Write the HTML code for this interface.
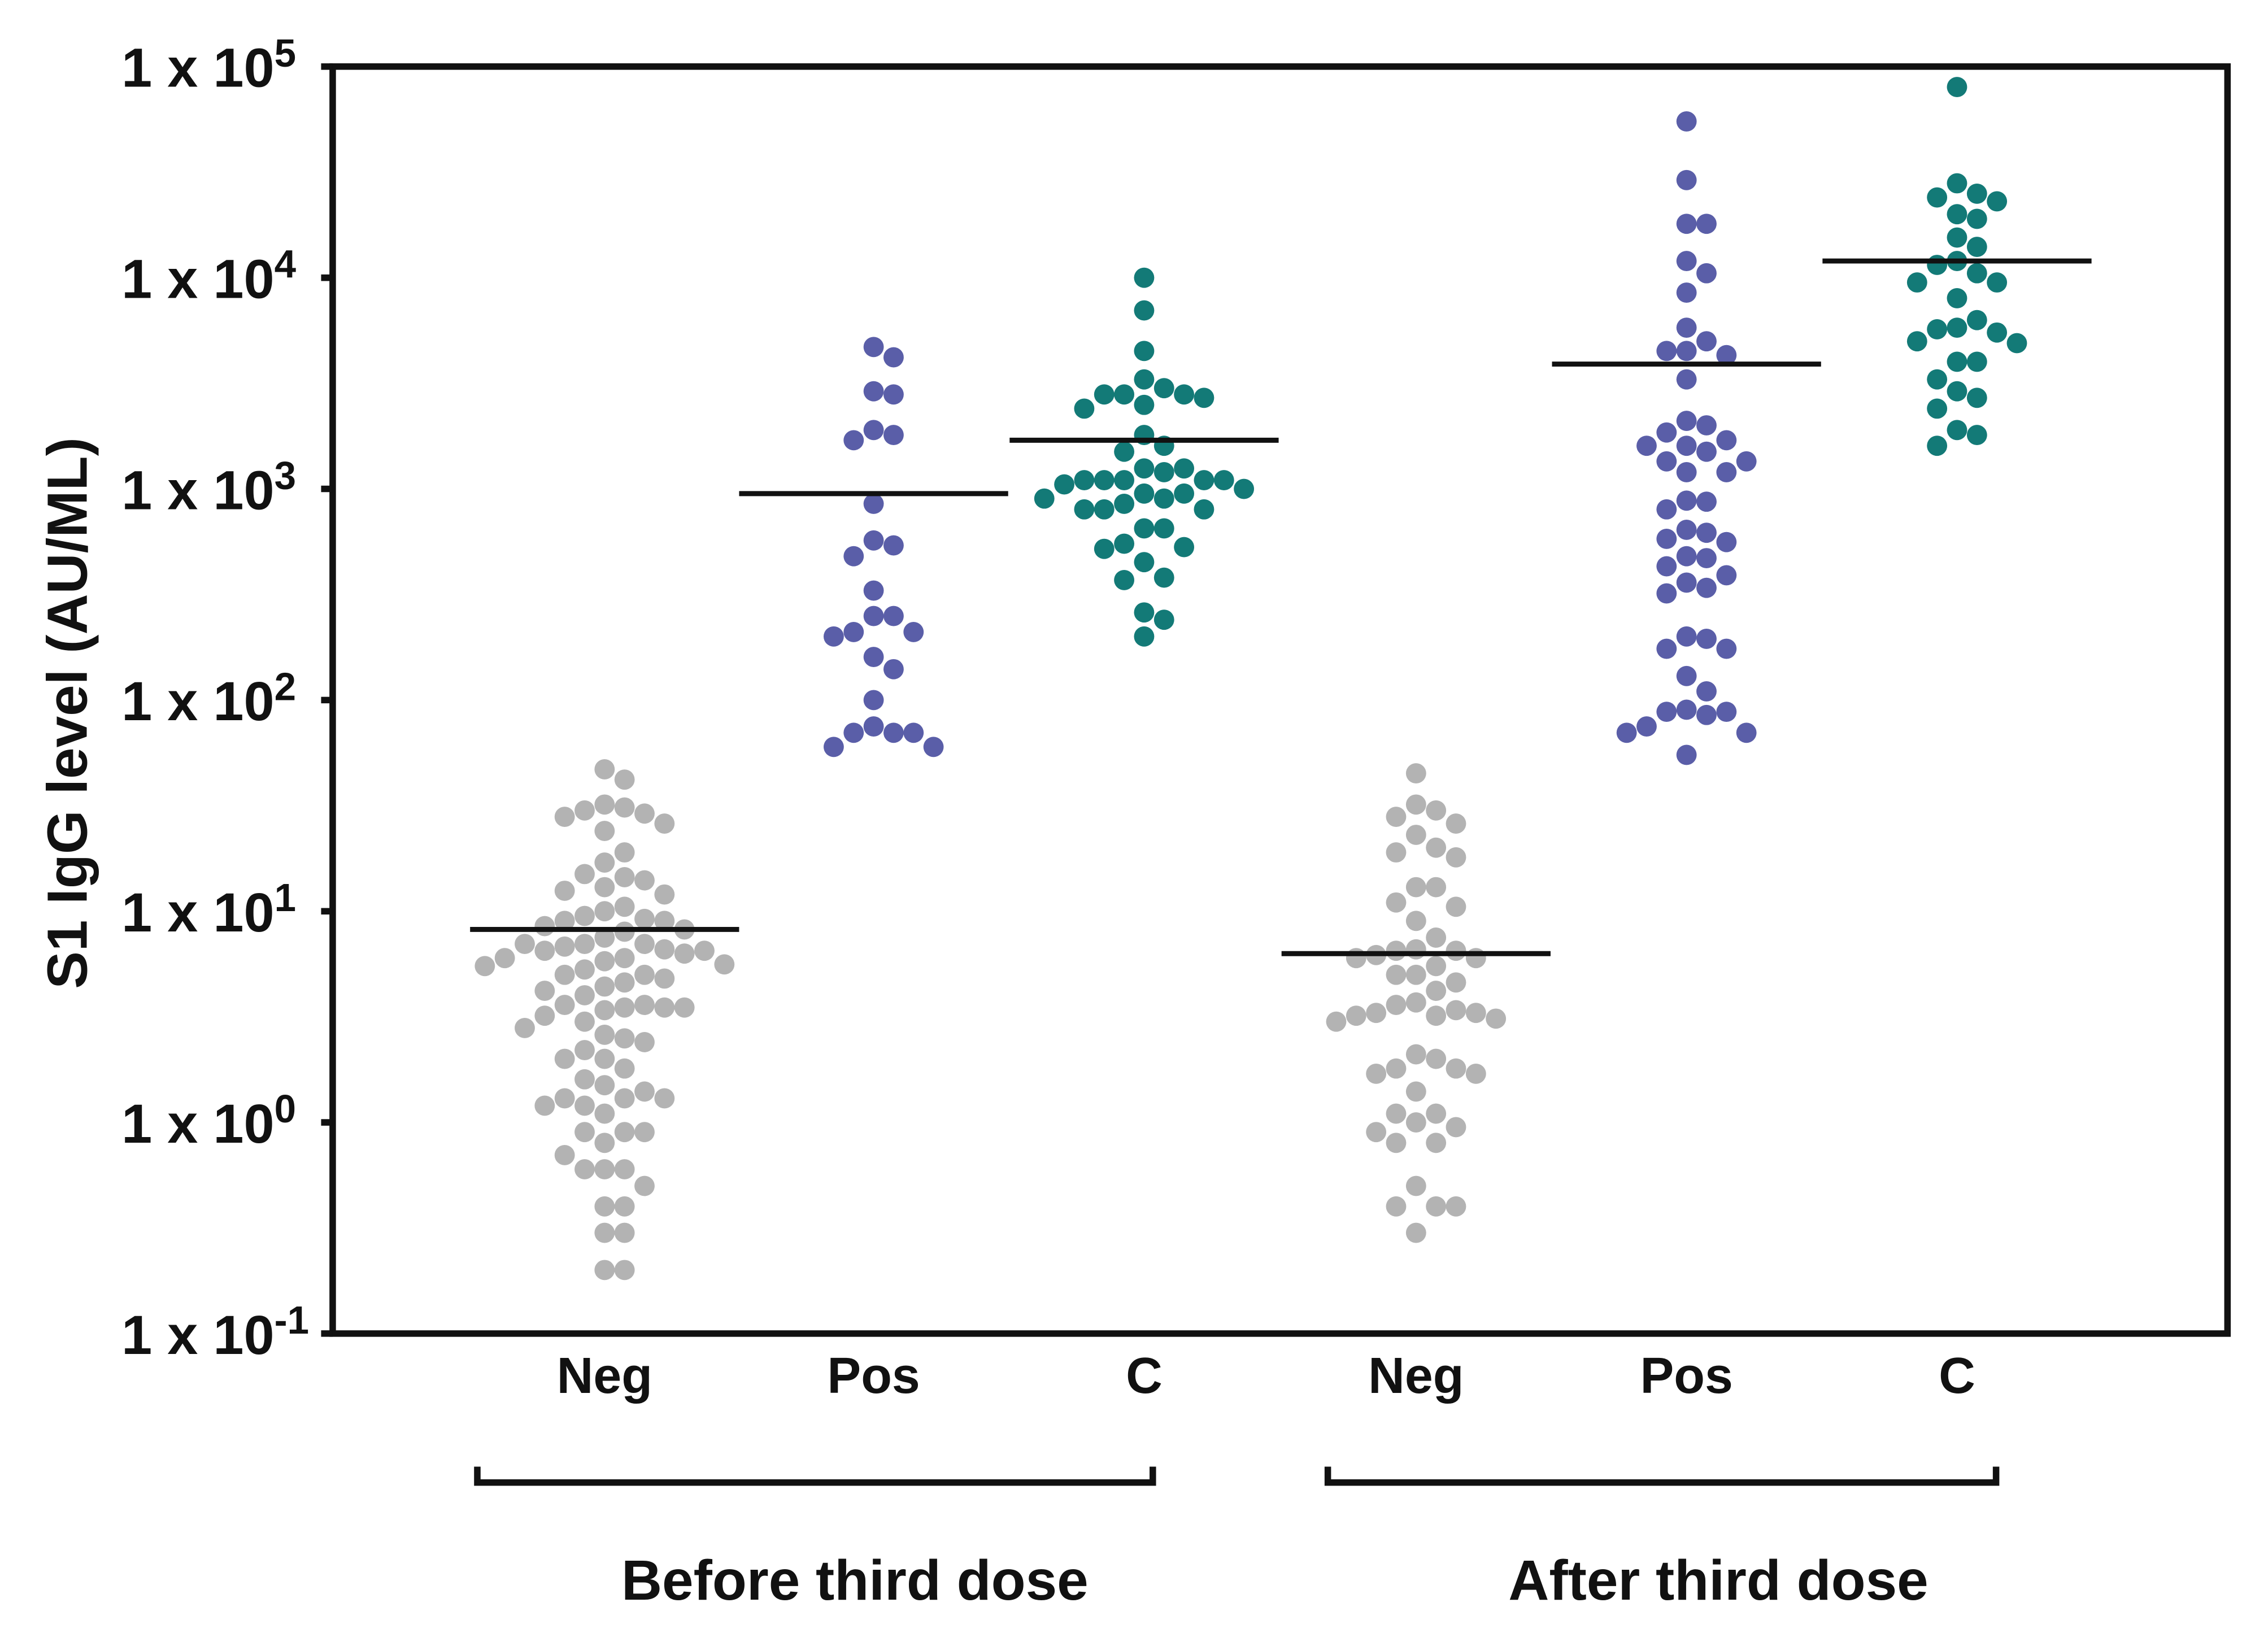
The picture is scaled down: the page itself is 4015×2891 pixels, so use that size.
<!DOCTYPE html>
<html><head><meta charset="utf-8"><style>
html,body{margin:0;padding:0;background:#fff;}
svg{display:block;}
text{font-family:"Liberation Sans",Arial,sans-serif;font-weight:bold;fill:#111;}
</style></head><body>
<svg id="chart" width="4015" height="2891" viewBox="0 0 1568 1129" xmlns="http://www.w3.org/2000/svg">
<g id="axes"></g>
<g id="points"></g>
<g id="medians"></g>
</svg>
<script>
const categories = ["Neg","Pos","C","Neg","Pos","C"];
const groupLabels = ["Before third dose","After third dose"];
const tickExponents = ["5","4","3","2","1","0","-1"];
const negBefore = [47,42,32,31,30,29,28,26,24,19,17,15,14.5,14,13,12.5,12,10.5,10,9.5,9.2,9,9,8.5,8.2,8,7.5,7,7,7,6.8,6.6,6.5,6.5,6.3,6,6,5.8,5.6,5.5,5.3,5,5,4.8,4.6,4.4,4.2,4,3.6,3.6,3.5,3.5,3.5,3.4,3.2,3,2.8,2.6,2.5,2.4,2.2,2,2,1.8,1.6,1.5,1.4,1.3,1.3,1.3,1.2,1.2,1.1,0.9,0.9,0.9,0.8,0.7,0.6,0.6,0.6,0.5,0.4,0.4,0.3,0.3,0.2,0.2];
const posBefore = [4700,4200,2900,2800,1900,1800,1700,850,570,540,480,330,250,250,210,210,200,160,140,100,75,70,70,70,60,60];
const cBefore = [10000,7000,4500,3300,3000,2800,2800,2800,2700,2500,2400,1800,1600,1500,1250,1250,1200,1100,1100,1100,1100,1100,1050,1000,950,950,900,900,850,800,800,800,650,650,550,530,520,450,380,370,260,240,200];
const negAfter = [45,32,30,28,26,23,20,19,18,13,13,11,10.5,9,7.5,6.6,6.5,6.5,6.2,6,6,5.5,5,5,4.6,4.2,3.7,3.6,3.4,3.3,3.3,3.2,3.2,3.1,3,2.1,2,1.8,1.8,1.7,1.7,1.4,1.1,1.1,1,0.95,0.9,0.8,0.8,0.5,0.4,0.4,0.4,0.3];
const posAfter = [55000,29000,18000,18000,12000,10500,8500,5800,5000,4500,4500,4300,3300,2100,2000,1850,1700,1600,1600,1500,1350,1350,1200,1200,880,870,800,640,620,580,560,480,470,430,390,360,340,320,200,195,175,175,130,110,90,88,88,85,75,70,70,55];
const cAfter = [80000,28000,25000,24000,23000,20000,19000,15500,14000,12000,11500,10500,9500,9500,8000,6300,5800,5700,5500,5000,4900,4000,4000,3300,2900,2700,2400,1900,1800,1600];
const medians = [8.2,950,1700,6.3,3900,12000];
const colors = ["#b3b3b3","#5a5ea8","#137a77","#b3b3b3","#5a5ea8","#137a77"];

const NS="http://www.w3.org/2000/svg";
const L=230,R=1540,T=46,B=922;
const catX=[418,604,791,979,1166,1353];
function y(v){return T+(5-Math.log10(v))*(B-T)/6;}
function mk(tag,attrs,parent){const e=document.createElementNS(NS,tag);for(const k in attrs)e.setAttribute(k,attrs[k]);parent.appendChild(e);return e;}
const ax=document.getElementById('axes');
let f=mk('rect',{x:L,y:T,width:R-L,height:B-T,fill:'none',stroke:'#111','stroke-width':4.5},ax);


tickExponents.forEach((e,i)=>{
  const yy=T+i*(B-T)/6;
  let t=mk('line',{x1:L-8,x2:L,y1:yy,y2:yy,stroke:'#111','stroke-width':4.5},ax);
  
  
  let tx=mk('text',{x:84,y:yy+14,'font-size':38},ax);
  
  
  tx.textContent='1 x 10';
  let s=mk('tspan',{dy:-14,'font-size':27},tx);s.textContent=e;
});
let yt=mk('text',{x:0,y:0,'font-size':39,'text-anchor':'middle',transform:'translate(60,493) rotate(-90)'},ax);


yt.textContent='S1 IgG level (AU/ML)';
categories.forEach((c,i)=>{
  let t=mk('text',{x:catX[i],y:963,'font-size':35,'text-anchor':'middle'},ax);
  
  
  t.textContent=c;
});
[[330,797,591],[918,1380,1188]].forEach((b,i)=>{
  let p=mk('path',{d:`M${b[0]},1014 V1025 H${b[1]} V1014`,fill:'none',stroke:'#111','stroke-width':4.5},ax);
  
  
  let t=mk('text',{x:b[2],y:1106,'font-size':39,'text-anchor':'middle'},ax);
  
  
  t.textContent=groupLabels[i];
});
const series=[negBefore,posBefore,cBefore,negAfter,posAfter,cAfter];
const pg=document.getElementById('points');
const r=7,DX=13.8,GAPX=13.5,GAPY=16;
const cands=[0];
for(let k=1;k<30;k++){cands.push(k*DX/2,-k*DX/2);}
series.forEach((vals,gi)=>{
  const sorted=vals.slice().sort((a,b)=>b-a);
  const placed=[];
  sorted.forEach(v=>{
    const yy=y(v);let xo=0;
    for(const c of cands){
      if(placed.every(p=>Math.abs(p[0]-c)>=GAPX||Math.abs(p[1]-yy)>=GAPY)){xo=c;break;}
    }
    placed.push([xo,yy]);
    let c=mk('circle',{cx:catX[gi]+xo,cy:yy,r:r,fill:colors[gi]},pg);
    
    
  });
});
const mg=document.getElementById('medians');
medians.forEach((m,i)=>{
  let l=mk('line',{x1:catX[i]-93,x2:catX[i]+93,y1:y(m),y2:y(m),stroke:'#111','stroke-width':3.5},mg);
  
  
});
</script>
</body></html>
